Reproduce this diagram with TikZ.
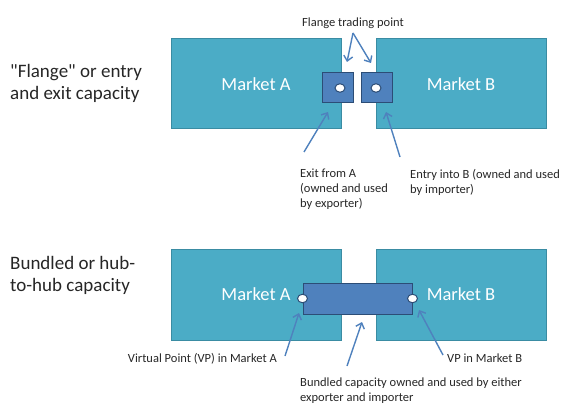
\documentclass[tikz,border=0pt]{standalone}
\usepackage{fontspec}
\setmainfont{Carlito}[Ligatures=TeXOff]
\usetikzlibrary{arrows.meta,positioning,calc,shapes.geometric}
\definecolor{mktfill}{HTML}{4BACC6}
\definecolor{mktline}{HTML}{3A8CA3}
\definecolor{capfill}{HTML}{4F81BD}
\definecolor{capline}{HTML}{2C4D76}
\definecolor{txt}{HTML}{262626}
\tikzset{
  every picture/.style={x=1pt, y=-1pt},
  mkt/.style={draw=mktline, fill=mktfill, line width=1pt, minimum width=170pt,
              minimum height=90pt, inner sep=0pt, text=white,
              font=\fontsize{18.5}{22}\selectfont},
  capbox/.style={draw=capline, fill=capfill, line width=1pt, inner sep=0pt},
  vp/.style={ellipse, draw=capline, fill=white, line width=1pt, inner sep=0pt,
             minimum width=10pt, minimum height=8.5pt},
  ptr/.style={draw=capfill, line width=1.4pt, -{Straight Barb[length=5pt,width=9pt]}},
  lbl/.style={text=txt, font=\fontsize{12.5}{15}\selectfont, align=left, inner sep=0pt},
  side/.style={text=txt, font=\fontsize{19}{22}\selectfont, align=left, inner sep=0pt,
               anchor=north west},
}

\begin{document}
\begin{tikzpicture}
  \useasboundingbox (0,0) rectangle (561,406);

  % flange (entry/exit) capacity
  \node[side] (flangeTxt) at (10,64) {"Flange" or entry\\and exit capacity};
  \node[mkt] (fA) at (256,84) {Market A};
  \node[mkt] (fB) at (461,84) {Market B};
  \node[capbox, minimum width=31pt, minimum height=30pt] (exA) at (337.5,88) {};
  \node[capbox, minimum width=31pt, minimum height=30pt] (enB) at (376.5,88) {};
  \node[vp] (exPt) at (340,88) {};
  \node[vp] (enPt) at (376,88) {};

  \node[lbl, anchor=base] (ftp) at (353,27) {Flange trading point};
  \coordinate (ftpTail) at (353,33);
  \coordinate (ftpL) at (347,62);
  \coordinate (ftpR) at (371,63);
  \draw[ptr] (ftpTail) -- (ftpL);
  \draw[ptr] (ftpTail) -- (ftpR);

  \node[lbl, anchor=north west] (exTxt) at (300,169)
    {Exit from A\\(owned and used\\by exporter)};
  \node[lbl, anchor=north west] (enTxt) at (410,169)
    {Entry into B (owned and used\\by importer)};
  \coordinate (exTail) at (304,152);
  \coordinate (exHead) at (328,112);
  \coordinate (enTail) at (400,157);
  \coordinate (enHead) at (386,112);
  \draw[ptr] (exTail) -- (exHead);
  \draw[ptr] (enTail) -- (enHead);

  % bundled (hub-to-hub) capacity
  \node[side] (bundTxt) at (10,256) {Bundled or hub-\\to-hub capacity};
  \node[mkt, minimum height=91pt] (bA) at (256,294.5) {Market A};
  \node[mkt, minimum height=91pt] (bB) at (461,294.5) {Market B};
  \node[capbox, minimum width=109pt, minimum height=31pt] (bund) at (357.5,298.5) {};
  \node[vp] (vpA) at (bund.west) {};
  \node[vp] (vpB) at (bund.east) {};

  \node[lbl, anchor=base east] (vpATxt) at (277,362) {Virtual Point (VP) in Market A};
  \node[lbl, anchor=base west] (vpBTxt) at (447,362) {VP in Market B};
  \node[lbl, anchor=north west] (bundCap) at (300,378)
    {Bundled capacity owned and used by either\\exporter and importer};
  \coordinate (vpATail) at (285,356);
  \coordinate (vpAHead) at (299,313);
  \coordinate (bundTail) at (347,366);
  \coordinate (bundHead) at (362,322);
  \coordinate (vpBTail) at (443,355);
  \coordinate (vpBHead) at (419,310);
  \draw[ptr] (vpATail) -- (vpAHead);
  \draw[ptr] (bundTail) -- (bundHead);
  \draw[ptr] (vpBTail) -- (vpBHead);
\end{tikzpicture}
\end{document}
